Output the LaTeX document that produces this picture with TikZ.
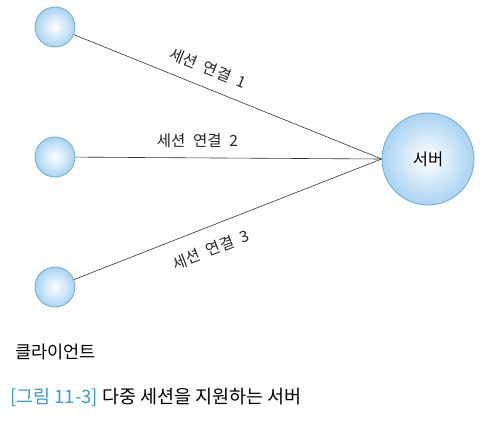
\documentclass[tikz,border=0pt]{standalone}
\usepackage{fontspec}
\setmainfont{Noto Sans CJK KR}
\definecolor{cyanlbl}{HTML}{3A9CC8}
\definecolor{ballrim}{HTML}{6FA8D2}
\definecolor{ballout}{HTML}{A9D3F3}
\newcommand\wgap{\hspace{0.5em}}
\tikzset{
  ballnode/.style={circle, draw=ballrim, line width=0.8pt, inner color=white, outer color=ballout, minimum size=#1, inner sep=0pt},
  conn/.style={draw=black!80, line width=0.6pt},
  lbl/.style={font=\fontsize{15.5}{15.5}\selectfont, text=black!85, inner sep=0pt},
}
\begin{document}
\begin{tikzpicture}[x=1pt,y=-1pt]
\useasboundingbox (0,0) rectangle (492,422);
\node[ballnode=40pt] (c1) at (55,27) {};
\node[ballnode=40pt] (c2) at (55,157) {};
\node[ballnode=40pt] (c3) at (55,287) {};
\node[ballnode=92pt, font=\fontsize{16.5}{16.5}\selectfont] (s) at (428,159) {서버};
\coordinate (sp) at (s.west);
\draw[conn] (c1) -- (sp) node[lbl, midway, sloped, above=12pt, xshift=-29pt] {세션\wgap 연결\wgap 1};
\draw[conn] (c2) -- (sp) node[lbl, midway, above=10pt, xshift=-31pt] {세션\wgap 연결\wgap 2};
\draw[conn] (c3) -- (sp) node[lbl, midway, sloped, below=15pt, xshift=-27pt] {세션\wgap 연결\wgap 3};
\node[font=\fontsize{17.5}{17.5}\selectfont, anchor=west, inner sep=0pt] (cl) at (15,352) {클라이언트};
\node[font=\fontsize{18.5}{18.5}\selectfont, anchor=west, inner sep=0pt] (cap) at (10,397) {\textcolor{cyanlbl}{[그림 11-3]} 다중 세션을 지원하는 서버};
\end{tikzpicture}
\end{document}
